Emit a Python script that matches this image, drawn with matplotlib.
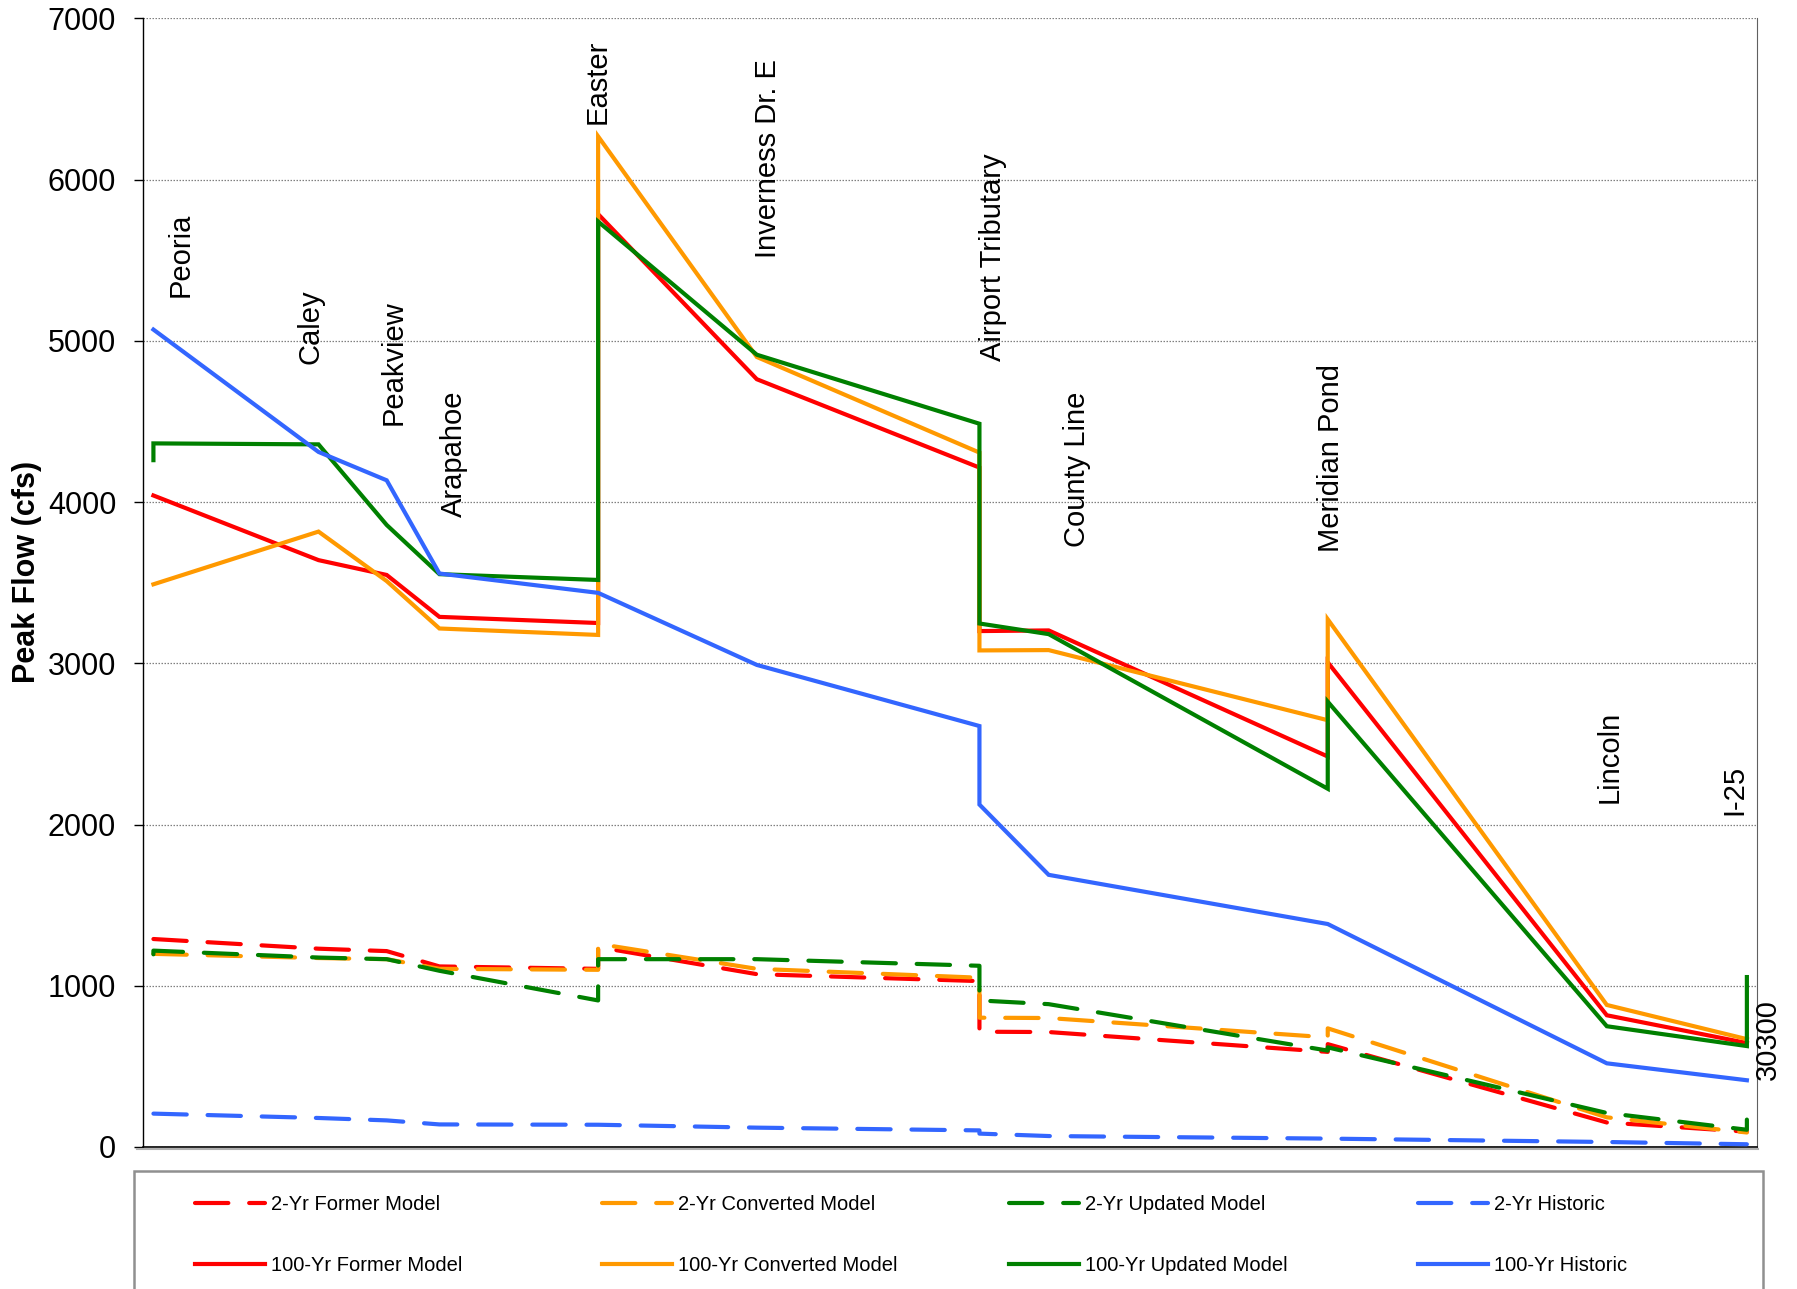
import matplotlib
matplotlib.use("Agg")
import matplotlib.pyplot as plt
from matplotlib.patches import Rectangle
from matplotlib.lines import Line2D

plt.rcParams["font.family"] = ["Liberation Sans", "DejaVu Sans"]

# Stream stations (ft along the channel) and their names
station_names = ["Peoria", "Caley", "Peakview", "Arapahoe", "Easter", "Inverness Dr. E",
                 "Airport Tributary", "County Line", "Meridian Pond", "Lincoln", "I-25"]
station_ft = [190, 3290, 4570, 5560, 8540, 11520, 15700, 17000, 22240, 27480, 30110]

# Station index sequences (a repeated index draws a vertical step at that station)
idx_model = [0, 1, 2, 3, 4, 4, 5, 6, 6, 7, 8, 8, 9, 10]
idx_updated = [0, 0, 1, 2, 3, 4, 4, 5, 6, 6, 7, 8, 8, 9, 10, 10]
idx_historic = [0, 1, 2, 3, 4, 5, 6, 6, 7, 8, 9, 10]

# Peak flows (cfs)
q2_former = [1290, 1230, 1215, 1120, 1105, 1240, 1072, 1029, 715, 713, 590, 638, 152, 95]
q2_converted = [1198, 1172, 1165, 1105, 1099, 1260, 1105, 1050, 802, 800, 680, 736, 184, 90]
q2_updated = [1195, 1218, 1175, 1165, 1093, 909, 1165, 1165, 1124, 909, 886, 598, 618, 211, 107, 170]
q2_historic = [207, 180, 165, 140, 138, 120, 103, 83, 68, 52, 31, 17]

q100_former = [4041, 3640, 3548, 3288, 3250, 5786, 4762, 4214, 3200, 3204, 2422, 3006, 817, 645]
q100_converted = [3490, 3817, 3510, 3216, 3176, 6268, 4900, 4307, 3080, 3082, 2647, 3273, 881, 669]
q100_updated = [4260, 4364, 4358, 3858, 3553, 3517, 5740, 4914, 4486, 3247, 3181, 2222, 2762, 749, 626, 1054]
q100_historic = [5070, 4311, 4135, 3557, 3437, 2990, 2611, 2124, 1688, 1383, 519, 414]

# Station label anchor points (bottom of the rotated text)
label_x = [702, 3143, 4708, 5830, 8525, 11736, 15960, 17538, 22296, 27527, 29870]
label_y = [5271, 4858, 4477, 3905, 6348, 5513, 4877, 3722, 3692, 2135, 2059]

end_label = "30300"
end_label_x = 30513
end_label_y = 415

y_ticks = [0, 1000, 2000, 3000, 4000, 5000, 6000, 7000]

RED, ORANGE, GREEN, BLUE = "#FF0000", "#FF9900", "#008000", "#3366FF"

W, H = 1797, 1289
fig = plt.figure(figsize=(W / 100, H / 100), dpi=100)
ax = fig.add_axes([143.3 / W, 1 - 1147 / H, (1757 - 143.3) / W, (1147 - 18.4) / H])


def xs(idx):
    return [station_ft[i] for i in idx]


series = [
    ("2-Yr Former Model", idx_model, q2_former, RED, True),
    ("2-Yr Converted Model", idx_model, q2_converted, ORANGE, True),
    ("2-Yr Updated Model", idx_updated, q2_updated, GREEN, True),
    ("2-Yr Historic", idx_historic, q2_historic, BLUE, True),
    ("100-Yr Former Model", idx_model, q100_former, RED, False),
    ("100-Yr Converted Model", idx_model, q100_converted, ORANGE, False),
    ("100-Yr Updated Model", idx_updated, q100_updated, GREEN, False),
    ("100-Yr Historic", idx_historic, q100_historic, BLUE, False),
]

lines = {}
for z, (name, idx, vals, color, dashed) in enumerate(series):
    if dashed:
        ln, = ax.plot(xs(idx), vals, color=color, lw=3.0, dashes=[8, 5],
                      dash_capstyle="round", label=name, zorder=3 + z)
    else:
        ln, = ax.plot(xs(idx), vals, color=color, lw=3.0, solid_joinstyle="miter",
                      label=name, zorder=3 + z)
    lines[name] = ln

ax.set_xlim(0, 30300)
ax.set_ylim(0, 7000)
ax.set_yticks(y_ticks)
ax.set_xticks([])
ax.tick_params(axis="y", direction="out", length=6.5, width=1, pad=13, labelsize=22)
ax.yaxis.grid(True, color="#808080", lw=0.9, linestyle=(0, (1.2, 1.2)))
ax.set_axisbelow(True)
ax.spines["top"].set_visible(False)
ax.spines["right"].set_color("#606060")
ax.spines["left"].set_linewidth(1.0)
ax.spines["bottom"].set_linewidth(1.2)

for name, lx, ly in zip(station_names, label_x, label_y):
    ax.text(lx, ly, name, rotation=90, ha="center", va="bottom", fontsize=21, zorder=20)
ax.text(end_label_x, end_label_y, end_label, rotation=90, ha="center", va="bottom",
        fontsize=21, clip_on=False, zorder=20)

fig.text(27.5 / W, 1 - 572 / H, "Peak Flow (cfs)", rotation=90, ha="center", va="center",
         fontsize=22, fontweight="bold")

# Soft shadow under the plot area
fig.add_artist(Line2D([137 / W, 1758 / W], [1 - 1149 / H, 1 - 1149 / H],
                      color="#b0b0b0", lw=1.5, transform=fig.transFigure))

# Legend frame
fig.add_artist(Rectangle((134 / W, -0.05), (1763 - 134) / W, 1 - 1171 / H + 0.05,
                         transform=fig.transFigure, facecolor="white",
                         edgecolor="#909090", lw=1.8, zorder=0))

groups = [("2-Yr Former Model", "100-Yr Former Model"),
          ("2-Yr Converted Model", "100-Yr Converted Model"),
          ("2-Yr Updated Model", "100-Yr Updated Model"),
          ("2-Yr Historic", "100-Yr Historic")]
col_x = [194.8, 601.6, 1008.5, 1417.6]
for gx, (a, b) in zip(col_x, groups):
    fig.legend([lines[a], lines[b]], [a, b], loc="center left",
               bbox_to_anchor=(gx / W, 1 - 1234.8 / H), frameon=False,
               fontsize=14.5, handlelength=3.5, handletextpad=0.3,
               labelspacing=2.1, borderpad=0, borderaxespad=0)

fig.savefig("out.png", dpi=100)
